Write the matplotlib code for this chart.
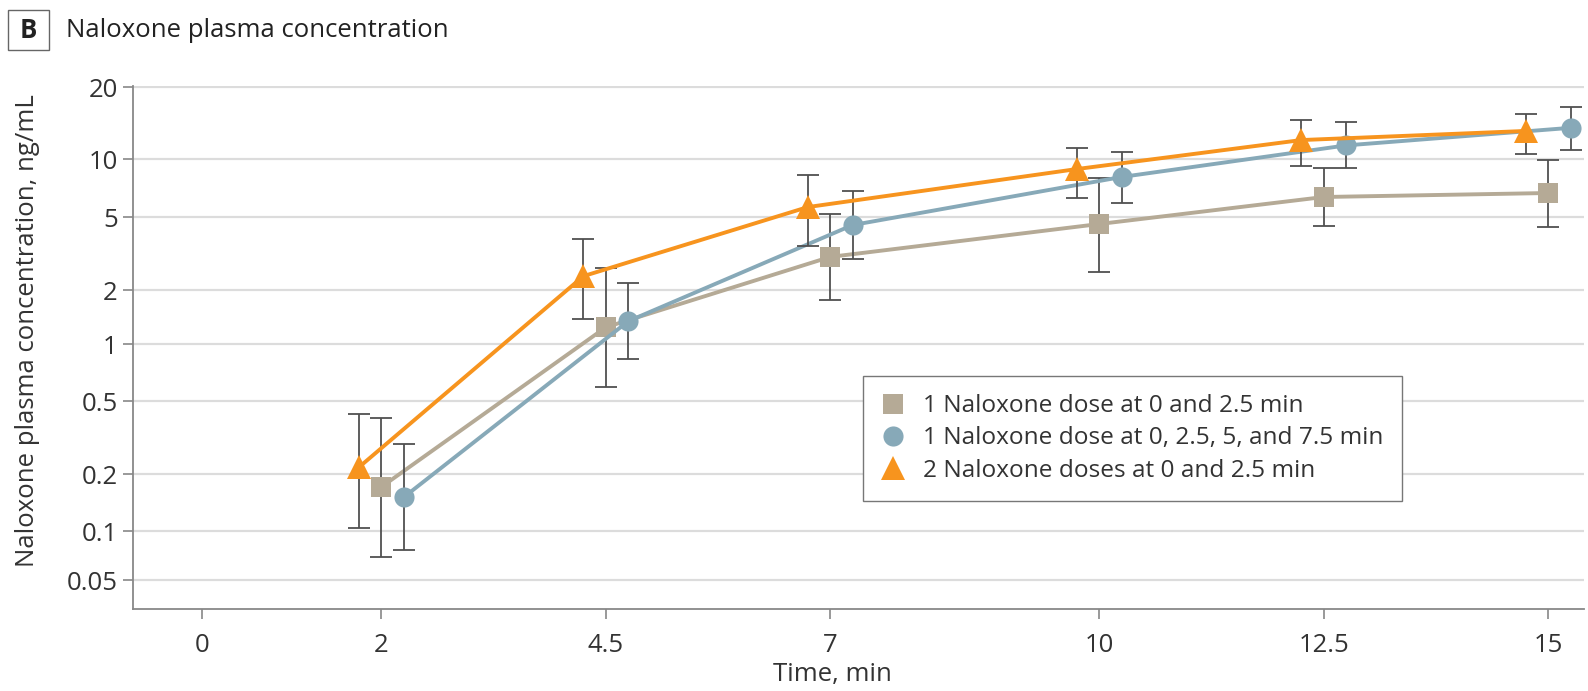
import numpy as np
import matplotlib
matplotlib.use("Agg")
import matplotlib.pyplot as plt
from matplotlib.lines import Line2D
from matplotlib.patches import Rectangle

plt.rcParams['font.family'] = ['Open Sans', 'DejaVu Sans']
plt.rcParams['font.size'] = 18.5

# data
times = [2, 4.5, 7, 10, 12.5, 15]
time_ticks = [0, 2, 4.5, 7, 10, 12.5, 15]
time_tick_labels = ["0", "2", "4.5", "7", "10", "12.5", "15"]
conc_ticks = [0.05, 0.1, 0.2, 0.5, 1, 2, 5, 10, 20]
conc_tick_labels = ["0.05", "0.1", "0.2", "0.5", "1", "2", "5", "10", "20"]

labels = ["1 Naloxone dose at 0 and 2.5 min",
          "1 Naloxone dose at 0, 2.5, 5, and 7.5 min",
          "2 Naloxone doses at 0 and 2.5 min"]

one_dose_mean = [0.171, 1.24, 3.03, 4.58, 6.35, 6.66]
one_dose_lo = [0.069, 0.59, 1.76, 2.5, 4.47, 4.41]
one_dose_hi = [0.404, 2.64, 5.18, 7.97, 8.98, 9.88]

four_dose_mean = [0.151, 1.34, 4.52, 8.07, 11.4, 13.5]
four_dose_lo = [0.076, 0.83, 2.95, 5.91, 8.98, 10.9]
four_dose_hi = [0.292, 2.18, 6.82, 10.7, 14.3, 16.5]

two_dose_mean = [0.218, 2.38, 5.63, 8.87, 12.0, 13.1]
two_dose_lo = [0.104, 1.38, 3.48, 6.27, 9.2, 10.5]
two_dose_hi = [0.425, 3.8, 8.3, 11.1, 14.6, 15.4]

# the printed log axis is not evenly spaced, follow its gridline rows (px)
tick_rows = [580, 531, 474, 401, 344, 290, 217, 159, 87]
lt = np.log10(conc_ticks)
hv = -np.array(tick_rows, dtype=float)
s0 = (hv[1] - hv[0]) / (lt[1] - lt[0])
s1 = (hv[-1] - hv[-2]) / (lt[-1] - lt[-2])


def fwd(v):
    u = np.log10(np.clip(np.asarray(v, dtype=float), 1e-9, None))
    out = np.interp(u, lt, hv)
    out = np.where(u < lt[0], hv[0] + (u - lt[0]) * s0, out)
    out = np.where(u > lt[-1], hv[-1] + (u - lt[-1]) * s1, out)
    return out


def inv(h):
    h = np.asarray(h, dtype=float)
    u = np.interp(h, hv, lt)
    u = np.where(h < hv[0], lt[0] + (h - hv[0]) / s0, u)
    u = np.where(h > hv[-1], lt[-1] + (h - hv[-1]) / s1, u)
    return 10 ** u


W, H = 1588, 691
fig = plt.figure(figsize=(W / 100, H / 100), dpi=100)
ax = fig.add_axes([133 / W, 1 - 609 / H, (1584 - 133) / W, (609 - 86) / H])
ax.set_yscale('function', functions=(fwd, inv))

series = [
    (one_dose_mean, one_dose_lo, one_dose_hi, '#b5aa96', 's', 14.5, 0.0),
    (four_dose_mean, four_dose_lo, four_dose_hi, '#87a9b8', 'o', 14.5, 0.25),
    (two_dose_mean, two_dose_lo, two_dose_hi, '#f7941e', '^', 17, -0.25),
]

handles = []
for i, (m, lo, hi, col, mk, ms, dx) in enumerate(series):
    m = np.array(m)
    x = np.array(times) + dx
    yerr = [m - np.array(lo), np.array(hi) - m]
    ax.errorbar(x, m, yerr=yerr, fmt='none', ecolor='#505050', elinewidth=1.3,
                capsize=8, capthick=1.3, zorder=2 + i * 2)
    ax.plot(x, m, color=col, lw=2.8, marker=mk, ms=ms, mew=0, zorder=3 + i * 2)
    handles.append(Line2D([], [], color=col, marker=mk, ls='none', ms=ms, mew=0))

ax.set_xlim(-0.769, 15.40)
ax.set_ylim(inv(-609), inv(-86))
ax.set_xticks(time_ticks)
ax.set_xticklabels(time_tick_labels)
ax.set_yticks(conc_ticks)
ax.set_yticklabels(conc_tick_labels)
ax.minorticks_off()

ax.grid(axis='y', color='#dcdcdc', lw=1.6)
ax.set_axisbelow(True)
for s in ['top', 'right']:
    ax.spines[s].set_visible(False)
for s in ['left', 'bottom']:
    ax.spines[s].set_color('#888888')
    ax.spines[s].set_linewidth(1.3)
ax.tick_params(axis='both', colors='#888888', labelcolor='#333333', width=1.2, length=7)
ax.tick_params(axis='x', pad=10)
ax.tick_params(axis='y', pad=4)

ax.set_xlabel("Time, min", color='#333333')
ax.xaxis.set_label_coords((832 - 133) / 1451, (609 - 662) / 523)
ax.set_ylabel("Naloxone plasma concentration, ng/mL", color='#333333')
ax.yaxis.set_label_coords((40 - 133) / 1451, (609 - 331) / 523)

leg = ax.legend(handles, labels, loc='upper left', bbox_to_anchor=((863 - 133) / 1451, (609 - 376) / 523),
                borderaxespad=0, fancybox=False, framealpha=1, edgecolor='#777777', fontsize=17.6,
                handlelength=0.98, handletextpad=0.74, borderpad=0.74, labelspacing=0.34)
leg.get_frame().set_linewidth(1.0)
for t in leg.get_texts():
    t.set_color('#333333')

# panel letter and title
fig.patches.append(Rectangle((8 / W, 1 - 50 / H), 41 / W, 40 / H, transform=fig.transFigure,
                             fill=False, ec='#666666', lw=1.0))
fig.text(28.5 / W, 1 - 30 / H, "B", ha='center', va='center', fontweight='bold', color='#222222')
fig.text(66 / W, 1 - 37 / H, "Naloxone plasma concentration", ha='left', va='baseline', color='#222222')

fig.savefig("out.png", dpi=100)
